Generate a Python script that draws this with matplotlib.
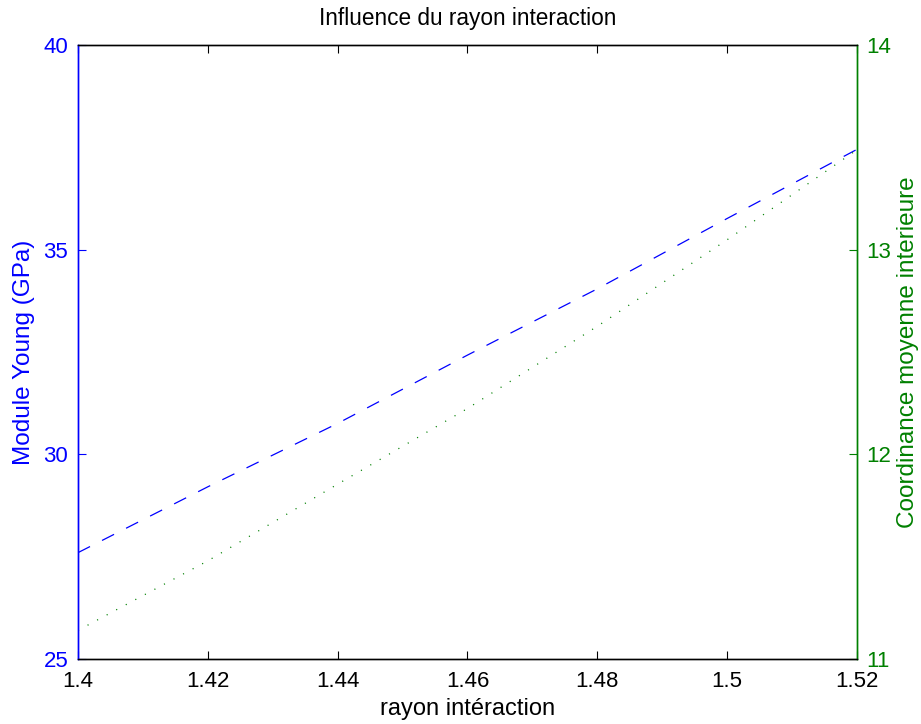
import numpy as np
import matplotlib
matplotlib.use('Agg')
import matplotlib.pyplot as plt

plt.rcParams['font.family'] = ['Liberation Sans', 'DejaVu Sans']
plt.rcParams['lines.scale_dashes'] = False

# Data
rayon = [1.40, 1.42, 1.44, 1.46, 1.48, 1.50, 1.52]
module_young = [27.6, 29.21, 30.76, 32.43, 34.05, 35.77, 37.46]
coordinance = [11.14, 11.48, 11.855, 12.225, 12.627, 13.05, 13.49]

x_ticks = [1.4, 1.42, 1.44, 1.46, 1.48, 1.5, 1.52]
x_labels = ['1.4', '1.42', '1.44', '1.46', '1.48', '1.5', '1.52']
left_ticks = [25, 30, 35, 40]
right_ticks = [11, 12, 13, 14]

blue = (0, 0, 1)
green = (0, 0.5, 0)

fig = plt.figure(figsize=(9.21, 7.24), dpi=100)
ax1 = fig.add_axes([0.0847, 0.0898, 0.8458, 0.8474])
ax2 = ax1.twinx()

ax1.plot(rayon, module_young, color=blue, lw=0.9, linestyle=(0, (9.7, 9.7)))
ax2.plot(rayon, coordinance, color=green, lw=0.9, linestyle=(0, (0.8, 7.0)))

ax1.set_xlim(1.4, 1.52)
ax1.set_ylim(25, 40)
ax2.set_ylim(11, 14)
ax1.set_xticks(x_ticks)
ax1.set_xticklabels(x_labels)
ax1.set_yticks(left_ticks)
ax2.set_yticks(right_ticks)

# MATLAB-like look
for ax in (ax1, ax2):
    for s in ax.spines.values():
        s.set_linewidth(1.0)
ax1.spines['left'].set_color(blue)
ax2.spines['left'].set_color(blue)
ax1.spines['right'].set_color(green)
ax2.spines['right'].set_color(green)
ax1.spines['top'].set_color('#222222')
ax1.spines['bottom'].set_color('#222222')

ax1.tick_params(axis='x', direction='in', length=6, top=True, labelsize=16,
                colors='black', pad=9)
ax1.tick_params(axis='y', direction='in', length=6, labelsize=16,
                colors=blue, pad=7)
ax2.tick_params(axis='y', direction='in', length=6, labelsize=16,
                colors=green, pad=7)

ax1.set_xlabel('rayon intéraction', fontsize=17, labelpad=4)
ax1.set_ylabel('Module Young (GPa)', fontsize=17.5, color=blue, labelpad=6)
ax2.set_ylabel('Coordinance moyenne interieure', fontsize=17.5, color=green, labelpad=4)
ax1.set_title('Influence du rayon interaction', fontsize=16.3, pad=15)

fig.savefig('out.png', dpi=100)
